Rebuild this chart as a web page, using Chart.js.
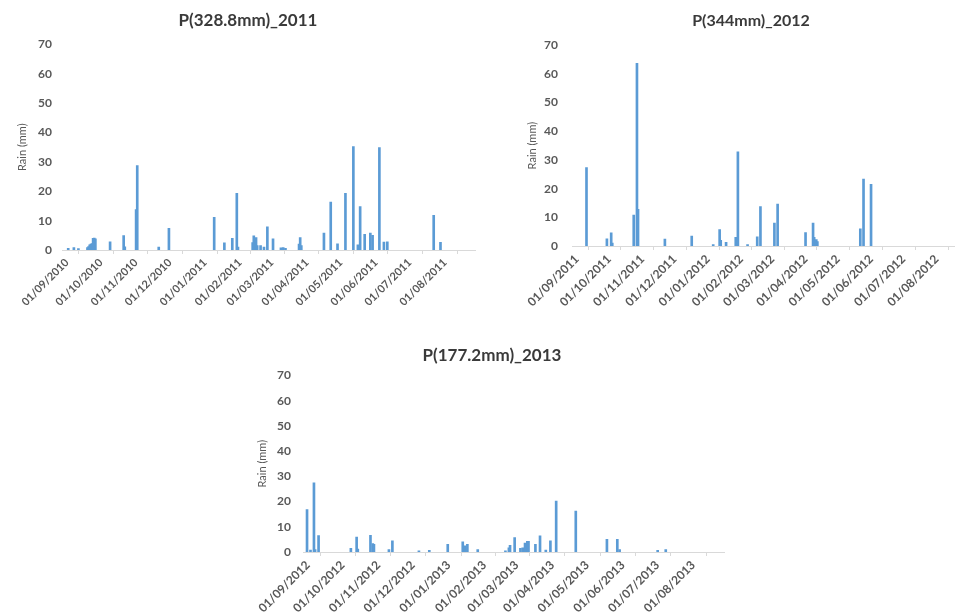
<!DOCTYPE html>
<html>
<head>
<meta charset="utf-8">
<script src="https://cdn.jsdelivr.net/npm/chart.js@4/dist/chart.umd.min.js"></script>
<style>
  html, body { margin: 0; padding: 0; background: #ffffff; overflow: hidden; width: 955px; height: 616px; position: relative; }
  canvas { position: absolute; }
</style>
</head>
<body>
<canvas id="c2011" width="496" height="330" style="left:0px;top:0px"></canvas>
<canvas id="c2012" width="482" height="326" style="left:510px;top:0px"></canvas>
<canvas id="c2013" width="502" height="286" style="left:241px;top:330px"></canvas>
<script>
// ---- Hydrological year 2010/2011 ----
const title2011 = 'P(328.8mm)_2011';
const span2011 = ['01/09/2010', '01/09/2011'];
const ticks2011 = ['01/09/2010','01/10/2010','01/11/2010','01/12/2010','01/01/2011','01/02/2011',
                   '01/03/2011','01/04/2011','01/05/2011','01/06/2011','01/07/2011','01/08/2011'];
const dates2011 = ['06/09/2010','11/09/2010','15/09/2010','23/09/2010','24/09/2010','25/09/2010',
                   '26/09/2010','27/09/2010','28/09/2010','29/09/2010','30/09/2010','13/10/2010',
                   '25/10/2010','26/10/2010','05/11/2010','06/11/2010','25/11/2010','04/12/2010',
                   '13/01/2011','22/01/2011','29/01/2011','02/02/2011','03/02/2011','16/02/2011',
                   '17/02/2011','19/02/2011','20/02/2011','23/02/2011','26/02/2011','01/03/2011',
                   '06/03/2011','13/03/2011','15/03/2011','17/03/2011','29/03/2011','30/03/2011',
                   '31/03/2011','20/04/2011','26/04/2011','02/05/2011','09/05/2011','16/05/2011',
                   '20/05/2011','22/05/2011','26/05/2011','31/05/2011','02/06/2011','08/06/2011',
                   '12/06/2011','15/06/2011','26/07/2011','01/08/2011'];
const rain2011  = [0.6, 0.8, 0.5, 0.8, 1.2, 1.8,
                   2.0, 2.2, 4.0, 4.1, 3.8, 2.8,
                   4.9, 1.1, 13.8, 28.7, 1.0, 7.4,
                   11.1, 2.4, 4.0, 19.3, 1.0, 2.5,
                   4.8, 4.2, 1.5, 1.5, 1.0, 7.9,
                   3.8, 0.7, 0.8, 0.6, 2.0, 4.2,
                   1.5, 5.8, 16.3, 2.1, 19.3, 35.2,
                   1.8, 14.8, 5.3, 5.8, 5.0, 34.9,
                   2.7, 2.8, 11.8, 2.6];

// ---- Hydrological year 2011/2012 ----
const title2012 = 'P(344mm)_2012';
const span2012 = ['01/09/2011', '01/09/2012'];
const ticks2012 = ['01/09/2011','01/10/2011','01/11/2011','01/12/2011','01/01/2012','01/02/2012',
                   '01/03/2012','01/04/2012','01/05/2012','01/06/2012','01/07/2012','01/08/2012'];
const dates2012 = ['14/09/2011','03/10/2011','07/10/2011','08/10/2011','28/10/2011','31/10/2011',
                   '01/11/2011','26/11/2011','21/12/2011','10/01/2012','16/01/2012','17/01/2012',
                   '22/01/2012','31/01/2012','02/02/2012','11/02/2012','20/02/2012','23/02/2012',
                   '07/03/2012','10/03/2012','05/04/2012','12/04/2012','13/04/2012','15/04/2012',
                   '16/04/2012','26/05/2012','29/05/2012','05/06/2012'];
const rain2012  = [27.3, 2.5, 4.6, 1.0, 10.8, 63.7,
                   12.8, 2.4, 3.5, 0.5, 5.7, 2.0,
                   1.3, 3.0, 32.8, 0.5, 3.2, 13.7,
                   8.0, 14.6, 4.7, 8.0, 3.0, 2.2,
                   1.5, 6.0, 23.3, 21.5];

// ---- Hydrological year 2012/2013 ----
const title2013 = 'P(177.2mm)_2013';
const span2013 = ['01/09/2012', '01/09/2013'];
const ticks2013 = ['01/09/2012','01/10/2012','01/11/2012','01/12/2012','01/01/2013','01/02/2013',
                   '01/03/2013','01/04/2013','01/05/2013','01/06/2013','01/07/2013','01/08/2013'];
const dates2013 = ['04/09/2012','07/09/2012','10/09/2012','11/09/2012','14/09/2012','12/10/2012',
                   '17/10/2012','18/10/2012','29/10/2012','31/10/2012','01/11/2012','14/11/2012',
                   '17/11/2012','10/12/2012','19/12/2012','04/01/2013','17/01/2013','19/01/2013',
                   '21/01/2013','30/01/2013','23/02/2013','26/02/2013','27/02/2013','03/03/2013',
                   '08/03/2013','10/03/2013','12/03/2013','14/03/2013','15/03/2013','21/03/2013',
                   '25/03/2013','30/03/2013','03/04/2013','08/04/2013','25/04/2013','22/05/2013',
                   '31/05/2013','02/06/2013','05/07/2013','12/07/2013'];
const rain2013  = [16.8, 0.8, 27.4, 1.0, 6.5, 1.5,
                   5.9, 1.2, 6.6, 3.3, 3.0, 1.0,
                   4.4, 0.5, 0.7, 3.0, 4.0, 2.4,
                   3.0, 1.0, 0.5, 1.7, 2.6, 5.7,
                   1.5, 1.7, 3.5, 4.2, 4.2, 3.0,
                   6.4, 0.8, 4.4, 20.2, 16.2, 5.0,
                   5.0, 1.0, 0.7, 1.0];

const yTicks = [0, 10, 20, 30, 40, 50, 60, 70];

const BAR_BLUE = '#5b9bd5';
const AXIS_GREY = '#d9d9d9';
const TEXT_GREY = '#595959';
const FONT = 'Lato, "Open Sans", "Liberation Sans", sans-serif';

function toUTC(s) {
  const [d, m, y] = s.split('/').map(Number);
  return Date.UTC(y, m - 1, d);
}
function dayOffset(s, origin) {
  return Math.round((toUTC(s) - toUTC(origin)) / 86400000);
}

function rainChart(canvasId, cfg) {
  const origin = cfg.span[0];
  const endDay = dayOffset(cfg.span[1], origin);
  const tickDays = cfg.ticks.map(t => dayOffset(t, origin));
  const labelByDay = {};
  cfg.ticks.forEach((t, i) => { labelByDay[tickDays[i]] = t; });
  const allTicks = tickDays.concat([endDay]);

  const points = cfg.dates.map((d, i) => ({ x: dayOffset(d, origin) + 0.5, y: cfg.values[i] }));

  return new Chart(document.getElementById(canvasId), {
    type: 'bar',
    data: {
      datasets: [{
        data: points,
        backgroundColor: BAR_BLUE,
        borderWidth: 0,
        barThickness: 2,
        grouped: false
      }]
    },
    options: {
      responsive: false,
      animation: false,
      devicePixelRatio: 1,
      layout: { padding: 0 },
      plugins: {
        legend: { display: false },
        tooltip: { enabled: false },
        title: {
          display: true,
          text: cfg.title,
          color: '#3a3a3a',
          font: { family: FONT, size: cfg.titleSize, weight: 'bold', lineHeight: 1.2 },
          padding: cfg.titlePad
        }
      },
      scales: {
        x: {
          type: 'linear',
          min: 0,
          max: endDay,
          offset: false,
          afterBuildTicks: s => { s.ticks = allTicks.map(v => ({ value: v })); },
          afterFit: s => { s.height = cfg.xAxisH; },
          grid: { display: true, drawOnChartArea: false, drawTicks: true, tickLength: 4, color: AXIS_GREY },
          border: { display: true, color: AXIS_GREY, width: 1 },
          ticks: {
            autoSkip: false,
            minRotation: 45,
            maxRotation: 45,
            padding: 2,
            labelOffset: 5,
            color: TEXT_GREY,
            font: { family: FONT, size: cfg.xFont, weight: 'bold' },
            callback: v => labelByDay[v] || ''
          }
        },
        y: {
          type: 'linear',
          min: yTicks[0],
          max: yTicks[yTicks.length - 1],
          afterBuildTicks: s => { s.ticks = yTicks.map(v => ({ value: v })); },
          afterFit: s => { s.width = cfg.yAxisW; },
          grid: { display: false, drawTicks: false },
          border: { display: false },
          ticks: {
            padding: cfg.yTickPad,
            color: TEXT_GREY,
            font: { family: FONT, size: 12, weight: 'bold' }
          },
          title: {
            display: true,
            text: 'Rain (mm)',
            color: TEXT_GREY,
            font: { family: FONT, size: 11 },
            padding: { top: cfg.yTitlePad, bottom: 0 }
          }
        },
        spacer: {
          type: 'linear',
          position: 'right',
          display: true,
          afterFit: s => { s.width = cfg.rightW; },
          grid: { display: false, drawTicks: false },
          border: { display: false },
          ticks: { display: false }
        }
      }
    }
  });
}

rainChart('c2011', {
  title: title2011, span: span2011, ticks: ticks2011, dates: dates2011, values: rain2011,
  yAxisW: 62, yTitlePad: 16, yTickPad: 10, rightW: 21, titleSize: 17, xFont: 11,
  titlePad: { top: 10, bottom: 14 }, xAxisH: 80
});
rainChart('c2012', {
  title: title2012, span: span2012, ticks: ticks2012, dates: dates2012, values: rain2012,
  yAxisW: 62, yTitlePad: 16, yTickPad: 14, rightW: 27, titleSize: 16, xFont: 12,
  titlePad: { top: 11, bottom: 15 }, xAxisH: 80
});
rainChart('c2013', {
  title: title2013, span: span2013, ticks: ticks2013, dates: dates2013, values: rain2013,
  yAxisW: 62, yTitlePad: 15, yTickPad: 12, rightW: 19, titleSize: 17, xFont: 12,
  titlePad: { top: 15, bottom: 10 }, xAxisH: 64
});
</script>
</body>
</html>
